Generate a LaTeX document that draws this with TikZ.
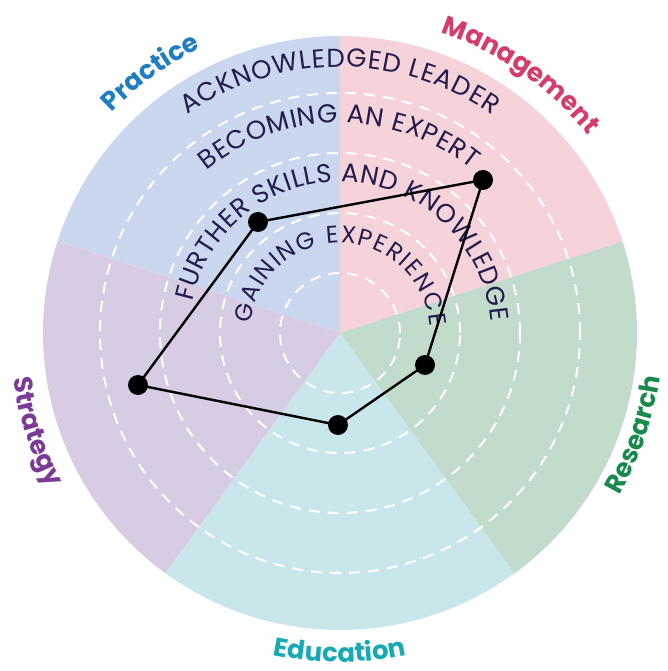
\documentclass[tikz,border=0pt]{standalone}
\usepackage{fontspec}
\setmainfont{Poppins}
\usetikzlibrary{decorations.text}
\definecolor{secP}{HTML}{CBD7EE}
\definecolor{secM}{HTML}{F6D3D9}
\definecolor{secR}{HTML}{C2DBCB}
\definecolor{secE}{HTML}{C9E7EA}
\definecolor{secS}{HTML}{D8CCE4}
\definecolor{labP}{HTML}{1F7DC1}
\definecolor{labM}{HTML}{D63B6E}
\definecolor{labR}{HTML}{178A4C}
\definecolor{labE}{HTML}{19A9B5}
\definecolor{labS}{HTML}{7B3A96}
\definecolor{navy}{HTML}{221C50}
\newcommand\ringfont{\fontsize{26}{26}\selectfont}
\newcommand\innerfont{\fontsize{24}{24}\selectfont}
\newcommand\labfont{\fontsize{26}{26}\selectfont\bfseries}
% radius, start angle, end angle, font, text
\newcommand\ringtext[5]{%
  \path[decorate, decoration={text along path, text color=navy,
    text align={fit to path}, text={|#4|#5}}]
    (#2:#1pt) arc[start angle=#2, end angle=#3, radius=#1pt];}
% radius, start, end, colour, text
\newcommand\sectlabel[5]{%
  \path[decorate, decoration={text along path, text color=#4,
    text align=center, text={|\labfont|#5}}]
    (#2:#1pt) arc[start angle=#2, end angle=#3, radius=#1pt];}
\begin{document}
\begin{tikzpicture}[x=1pt,y=1pt,
  ring/.style={white, line width=2pt, dash pattern=on 11pt off 8pt},
  poly/.style={black, line width=2.4pt, line join=round},
  dot/.style={circle, fill=black, inner sep=0pt, minimum size=20pt}]
\useasboundingbox (-340,-338) rectangle (327,333);
% sectors
\fill[secM] (0,0) -- (18:297pt) arc[start angle=18, end angle=90, radius=297pt] -- cycle;
\fill[secP] (0,0) -- (90:297pt) arc[start angle=90, end angle=162, radius=297pt] -- cycle;
\fill[secS] (0,0) -- (162:297pt) arc[start angle=162, end angle=234, radius=297pt] -- cycle;
\fill[secE] (0,0) -- (234:297pt) arc[start angle=234, end angle=306, radius=297pt] -- cycle;
\fill[secR] (0,0) -- (306:297pt) arc[start angle=306, end angle=378, radius=297pt] -- cycle;
% dashed rings
\foreach \r in {60,120,180,240} \draw[ring] (0,0) circle[radius=\r pt];
% ring texts
\ringtext{266}{125}{55}{\ringfont}{ACKNOWLEDGED LEADER}
\ringtext{210}{129.3}{51.2}{\ringfont}{BECOMING AN EXPERT}
\ringtext{151}{168}{4.2}{\ringfont}{FURTHER SKILLS AND KNOWLEDGE}
\ringtext{90}{174}{4}{\innerfont}{GAINING EXPERIENCE}
% sector labels
\sectlabel{317}{156}{96}{labP}{Practice}
\sectlabel{317}{90}{20}{labM}{Management}
\sectlabel{323}{-49.5}{11.5}{labR}{Research}
\sectlabel{329}{-120}{-60}{labE}{Education}
\sectlabel{330}{168}{228}{labS}{Strategy}
% profile
\node[dot] (m) at (143,153) {};
\node[dot] (p) at (-82,111) {};
\node[dot] (s) at (-202,-52) {};
\node[dot] (e) at (-2,-92) {};
\node[dot] (r) at (85,-32) {};
\draw[poly] (m.center) -- (p.center) -- (s.center) -- (e.center) -- (r.center) -- cycle;
\end{tikzpicture}
\end{document}
